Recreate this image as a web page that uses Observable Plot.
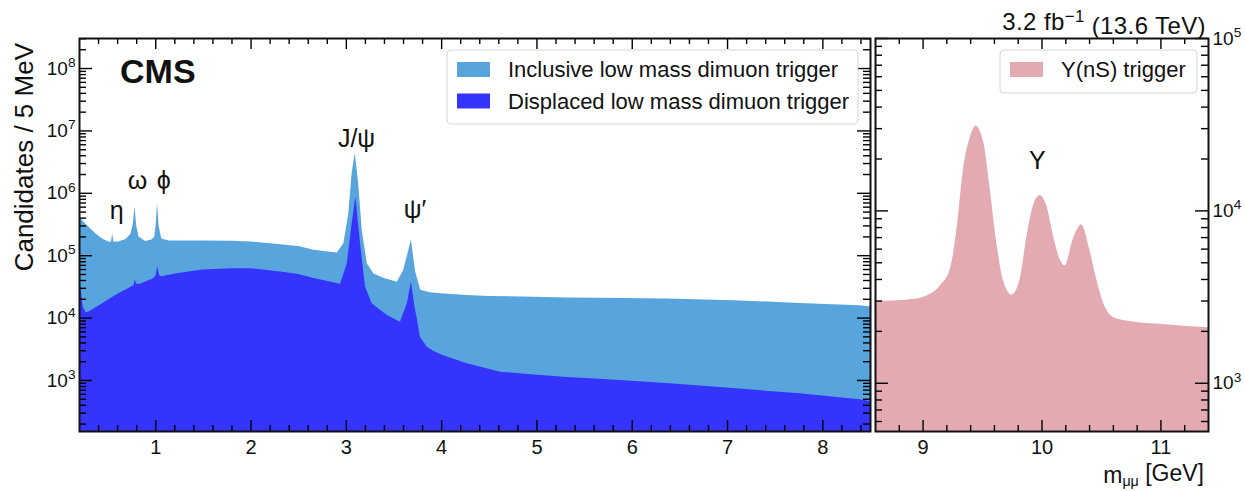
<!DOCTYPE html>
<html><head><meta charset="utf-8">
<script src="https://cdn.jsdelivr.net/npm/d3@7"></script>
<script src="https://cdn.jsdelivr.net/npm/@observablehq/plot@0.6"></script>
<style>
body{margin:0;background:#fff;}
#wrap{position:relative;width:1245px;height:491px;font-family:"Liberation Sans",Arial,sans-serif;}
#wrap svg{position:absolute;top:0;overflow:visible;}
</style></head><body><div id="wrap"></div>
<script>
// ---- data ----
const inclMass  = [0.200,0.215,0.250,0.300,0.371,0.441,0.511,0.535,0.548,0.560,0.600,0.686,0.740,0.765,0.782,0.800,0.825,0.895,0.960,0.990,1.005,1.019,1.035,1.063,1.140,1.490,1.800,2.000,2.310,2.500,2.660,2.905,2.974,3.026,3.060,3.093,3.130,3.167,3.220,3.290,3.400,3.534,3.600,3.655,3.683,3.725,3.780,3.880,3.990,4.270,4.500,4.970,5.320,5.660,6.360,7.060,7.760,8.390,8.500];
const inclCount = [3.6e5,3.9e5,3.4e5,2.86e5,2.24e5,1.86e5,1.64e5,1.64e5,2.2e5,1.66e5,1.64e5,1.8e5,2.2e5,3.2e5,6.1e5,3.0e5,2.0e5,1.69e5,1.78e5,2.0e5,3.2e5,6.9e5,3.0e5,1.85e5,1.72e5,1.72e5,1.7e5,1.66e5,1.5e5,1.4e5,1.22e5,1.1e5,1.55e5,4.7e5,2.0e6,4.4e6,1.4e6,2.5e5,7.4e4,5.1e4,4.3e4,3.76e4,5.7e4,1.2e5,1.8e5,5.7e4,2.8e4,2.55e4,2.45e4,2.3e4,2.22e4,2.16e4,2.1e4,2.08e4,2.02e4,1.9e4,1.72e4,1.58e4,1.5e4];
const dispMass  = [0.200,0.215,0.240,0.270,0.300,0.441,0.580,0.755,0.770,0.785,0.800,0.840,0.982,1.005,1.020,1.040,1.063,1.210,1.490,1.800,2.000,2.310,2.500,2.660,2.940,3.010,3.060,3.100,3.149,3.200,3.270,3.430,3.568,3.640,3.683,3.720,3.743,3.778,3.850,3.920,4.020,4.270,4.620,4.970,5.320,5.660,6.360,7.060,7.760,8.390,8.500];
const dispCount = [4.2e4,3.0e4,1.5e4,1.22e4,1.25e4,1.7e4,2.3e4,3.2e4,3.3e4,4.1e4,3.5e4,3.5e4,4.3e4,4.8e4,6.7e4,4.8e4,4.6e4,5.1e4,5.9e4,6.2e4,6.2e4,5.5e4,5.0e4,4.3e4,3.5e4,7.4e4,3.2e5,8.7e5,1.55e5,3.2e4,1.7e4,1.1e4,8.6e3,1.7e4,3.76e4,1.5e4,1.0e4,4.9e3,3.4e3,2.9e3,2.5e3,1.85e3,1.36e3,1.22e3,1.12e3,1.05e3,8.9e2,7.4e2,6.1e2,4.9e2,4.6e2];
const upsMass   = [8.60,8.75,8.89,9.03,9.15,9.23,9.285,9.34,9.40,9.445,9.51,9.565,9.62,9.68,9.747,9.816,9.87,9.928,9.984,10.04,10.096,10.15,10.194,10.263,10.334,10.40,10.46,10.515,10.60,10.71,10.99,11.40];
const upsCount  = [2.98e3,3.0e3,3.05e3,3.2e3,3.7e3,4.6e3,7.8e3,1.74e4,2.7e4,3.1e4,2.5e4,1.33e4,6.5e3,3.85e3,3.25e3,4.0e3,6.85e3,1.07e4,1.23e4,1.07e4,7.2e3,5.25e3,4.8e3,6.85e3,8.3e3,6.0e3,4.0e3,2.95e3,2.41e3,2.3e3,2.2e3,2.1e3];

const seriesNames = ["Inclusive low mass dimuon trigger","Displaced low mass dimuon trigger","Υ(nS) trigger"];
const seriesColors = ["#57a5dc","#3434fd","#e3abb1"];

const lowXTicks  = [1,2,3,4,5,6,7,8];
const highXTicks = [9,10,11];
const lowYTicks  = [1e3,1e4,1e5,1e6,1e7,1e8];
const highYTicks = [1e3,1e4,1e5];

const peakNames = ["η","ω","ϕ","J/ψ","ψ′"];
const peakMass  = [0.59,0.81,1.085,3.107,3.72];
const peakCount = [5.25e5,1.58e6,1.58e6,7.5e6,5.45e5];
const upsLabel = ["Υ"], upsLabelMass = [9.96], upsLabelCount = [1.96e4];

// ---- helpers ----
const FONT = '"Liberation Sans", Arial, sans-serif';
const INK = "#111";
const H = 491, TOP = 38, BOT = 431, PH = BOT - TOP;
const rows = (xs, ys) => xs.map((m, i) => ({m, n: ys[i]}));
const minorLog = (lo, hi) => { const a = []; for (let e = 2; e <= 8; e++) for (let k = 2; k <= 9; k++) { const v = k * 10 ** e; if (v > lo && v < hi) a.push(v); } return a; };
const minorLin = (lo, hi) => { const a = []; for (let i = Math.round(lo * 5); i <= Math.round(hi * 5); i++) { const v = i / 5; if (Math.abs(v - Math.round(v)) > 1e-6) a.push(+v.toFixed(1)); } return a; };
const sup = d => "10^" + Math.round(Math.log10(d));
const id = d => d;

function tickMarks(xDom, yDom, xMaj, yMaj, yLabelSide, PW) {
  const xMin = minorLin(xDom[0], xDom[1]).filter(v => v > xDom[0] && v < xDom[1]);
  const yMin = minorLog(yDom[0], yDom[1]);
  const s = {stroke: "#000", strokeWidth: 1.4};
  return [
    Plot.tickX(xMaj, {x: id, insetTop: PH - 11, ...s}),
    Plot.tickX(xMaj, {x: id, insetBottom: PH - 11, ...s}),
    Plot.tickX(xMin, {x: id, insetTop: PH - 6, ...s}),
    Plot.tickX(xMin, {x: id, insetBottom: PH - 6, ...s}),
    Plot.tickY(yMaj, {y: id, insetRight: PW - 13, ...s}),
    Plot.tickY(yMaj, {y: id, insetLeft: PW - 13, ...s}),
    Plot.tickY(yMin, {y: id, insetRight: PW - 7, ...s}),
    Plot.tickY(yMin, {y: id, insetLeft: PW - 7, ...s}),
    Plot.axisX({anchor: "bottom", ticks: xMaj, tickSize: 0, tickPadding: 8, tickFormat: d => String(d), label: null, fontSize: 20, fill: INK}),
    Plot.axisY({anchor: yLabelSide, ticks: yMaj, tickSize: 0, tickPadding: 4, tickFormat: sup, label: null, fontSize: 19, fill: INK})
  ];
}

// ---- left panel ----
const lowXDom = [0.2, 8.5], lowYDom = [152, 3.03e8];
const left = Plot.plot({
  width: 873, height: H, marginLeft: 79, marginRight: 3, marginTop: TOP, marginBottom: H - BOT,
  style: {fontFamily: FONT, background: "transparent", color: INK},
  x: {domain: lowXDom},
  y: {type: "log", domain: lowYDom},
  marks: [
    Plot.areaY(rows(inclMass, inclCount), {x: "m", y1: 1, y2: "n", fill: seriesColors[0], clip: true}),
    Plot.areaY(rows(dispMass, dispCount), {x: "m", y1: 1, y2: "n", fill: seriesColors[1], clip: true}),
    ...tickMarks(lowXDom, lowYDom, lowXTicks, lowYTicks, "left", 791),
    Plot.frame({stroke: INK, strokeWidth: 2}),
    Plot.text(peakNames.map((t, i) => ({t, m: peakMass[i], n: peakCount[i]})), {x: "m", y: "n", text: "t", fontSize: 25, fill: INK})
  ]
});

// ---- right panel ----
const highXDom = [8.6, 11.4], highYDom = [525, 1e5];
const right = Plot.plot({
  width: 372, height: H, marginLeft: 2, marginRight: 37, marginTop: TOP, marginBottom: H - BOT,
  style: {fontFamily: FONT, background: "transparent", color: INK},
  x: {domain: highXDom},
  y: {type: "log", domain: highYDom},
  marks: [
    Plot.areaY(rows(upsMass, upsCount), {x: "m", y1: 1, y2: "n", fill: seriesColors[2], clip: true, curve: "monotone-x"}),
    ...tickMarks(highXDom, highYDom, highXTicks, highYTicks, "right", 333),
    Plot.frame({stroke: INK, strokeWidth: 2}),
    Plot.text(upsLabel.map((t, i) => ({t, m: upsLabelMass[i], n: upsLabelCount[i]})), {x: "m", y: "n", text: "t", fontSize: 25, fill: INK})
  ]
});

const wrap = document.getElementById("wrap");
left.style.left = "0px"; right.style.left = "873px";
wrap.appendChild(left); wrap.appendChild(right);

// superscript exponents of tick labels
for (const svg of [left, right]) {
  d3.select(svg).selectAll("text").each(function () {
    const mt = /^10\^(\d+)$/.exec(this.textContent);
    if (!mt) return;
    const t = d3.select(this); t.text("10");
    t.append("tspan").attr("dy", "-0.55em").attr("font-size", "0.72em").text(mt[1]);
  });
}

// decorations
const L = d3.select(left), R = d3.select(right);
const txt = (sel, x, y, size, anchor) => sel.append("text").attr("x", x).attr("y", y).attr("font-family", FONT).attr("font-size", size).attr("text-anchor", anchor).attr("fill", INK);
txt(L, 120, 83, 34, "start").attr("font-weight", "bold").text("CMS");
L.append("text").attr("transform", "translate(33,43) rotate(-90)").attr("text-anchor", "end").attr("font-family", FONT).attr("font-size", 26).attr("fill", INK).text("Candidates / 5 MeV");

function legend(sel, x, y, w, h, items) {
  const g = sel.append("g").attr("font-family", FONT).attr("font-size", 22).attr("fill", INK).attr("text-anchor", "start");
  g.append("rect").attr("x", x).attr("y", y).attr("width", w).attr("height", h).attr("rx", 4).attr("fill", "#fff").attr("fill-opacity", 0.85).attr("stroke", "#d6d6d6");
  items.forEach((it, i) => {
    g.append("rect").attr("x", x + 10).attr("y", y + 12 + i * 31.5).attr("width", 33).attr("height", 15).attr("fill", it.c);
    g.append("text").attr("x", x + 61).attr("y", y + 27 + i * 31.5).attr("text-anchor", "start").text(it.t);
  });
}
legend(L, 447, 50, 411, 74, [{t: seriesNames[0], c: seriesColors[0]}, {t: seriesNames[1], c: seriesColors[1]}]);
legend(R, 127, 50, 197, 43, [{t: seriesNames[2], c: seriesColors[2]}]);

const title = txt(R, 333, 30, 24, "end").attr("letter-spacing", "0.4px");
title.append("tspan").text("3.2 fb");
title.append("tspan").attr("dy", "-0.5em").attr("font-size", "0.7em").text("−1");
title.append("tspan").attr("dy", "0.5em").text(" (13.6 TeV)");

const xl = txt(R, 331, 483, 23, "end");
xl.append("tspan").text("m");
xl.append("tspan").attr("dy", "0.22em").attr("font-size", "0.62em").text("μμ");
xl.append("tspan").attr("dy", "-0.22em").text(" [GeV]");
</script></body></html>
